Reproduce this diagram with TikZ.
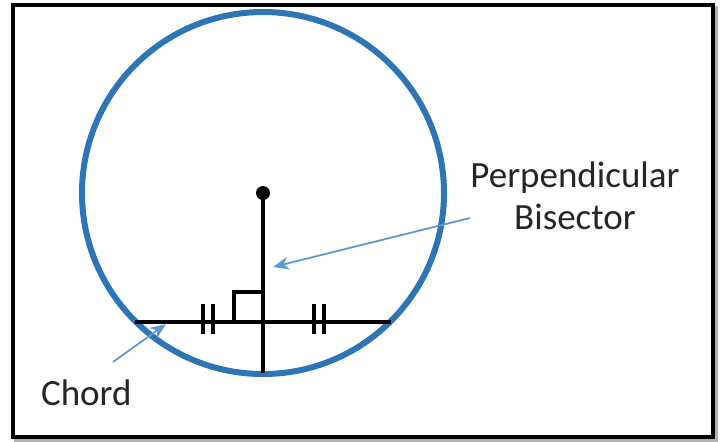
\documentclass[tikz,border=0pt]{standalone}
\usepackage{fontspec}
\setmainfont{Carlito}
\usepackage{xcolor}
\usetikzlibrary{arrows.meta}
\definecolor{rimblue}{RGB}{46,117,182}
\definecolor{callblue}{RGB}{91,155,213}
\definecolor{labtext}{RGB}{38,38,38}

\begin{document}
\begin{tikzpicture}[
  x=0.5pt, y=-0.5pt,
  rim/.style={draw=rimblue, line width=3pt},
  seg/.style={draw=black, line width=1.7pt},
  tick/.style={draw=black, line width=1.7pt},
  dot/.style={circle, fill=black, inner sep=0pt, minimum size=7pt},
  lab/.style={font=\fontsize{18.5}{22}\selectfont, text=labtext, align=center},
  callout/.style={-{Stealth[length=8pt, width=6.5pt]}, draw=callblue, line width=0.9pt}
]
\useasboundingbox (0,0) rectangle (723,441);
% frame
\draw[gray!60, line width=1.8pt] (16,8) rectangle (716,440);
\draw[black, line width=1.8pt, fill=white] (13,5) rectangle (713,437);
% circle and centre
\coordinate (ctr) at (263,193);
\draw[rim] (ctr) circle [radius=90.5pt];
% chord and bisector
\coordinate (chA) at (135,322);
\coordinate (chB) at (391,322);
\coordinate (mid) at (263,322);
\coordinate (low) at (263,373);
\draw[seg] (chA) -- (chB);
\draw[seg] (ctr) -- (low);
\node[dot] (cdot) at (ctr) {};
% right angle
\draw[seg] (234,322) -- (234,292) -- (263,292);
% equal marks
\foreach \tx in {203,213,314,324}
  \draw[tick] (\tx,304) -- (\tx,334);
% labels
\node[lab] (perp) at (575,196) {Perpendicular\\[-1pt]Bisector};
\node[lab, anchor=west] (chd) at (34,393) {Chord};
\coordinate (pTail) at (470,218);
\coordinate (pTip) at (273,267);
\coordinate (cTail) at (113,362);
\coordinate (cTip) at (166,324);
\draw[callout] (pTail) -- (pTip);
\draw[callout] (cTail) -- (cTip);
\end{tikzpicture}
\end{document}
